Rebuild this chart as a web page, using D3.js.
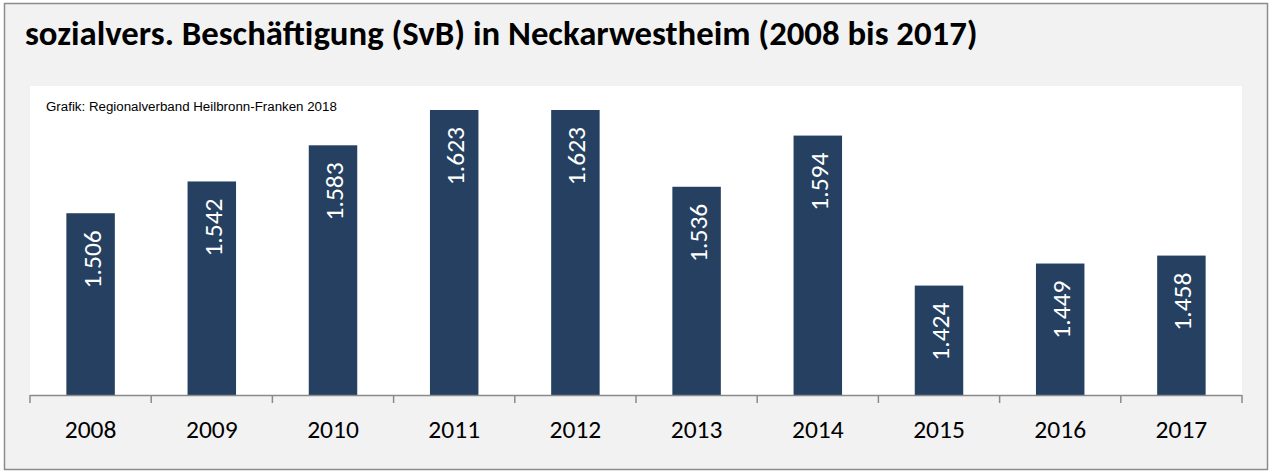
<!DOCTYPE html>
<html>
<head>
<meta charset="utf-8">
<script src="https://cdn.jsdelivr.net/npm/d3@7"></script>
<style>
  html, body { margin: 0; padding: 0; background: #ffffff; }
  svg { display: block; }
</style>
</head>
<body>
<svg id="chart" width="1271" height="472"></svg>
<script>
const years = ["2008","2009","2010","2011","2012","2013","2014","2015","2016","2017"];
const employees = [1506, 1542, 1583, 1623, 1623, 1536, 1594, 1424, 1449, 1458];
const titleText = "sozialvers. Beschäftigung (SvB) in Neckarwestheim (2008 bis 2017)";
const sourceText = "Grafik: Regionalverband Heilbronn-Franken 2018";

const svg = d3.select("#chart");

function fitWidth(sel, base, target) {
  const l = sel.node().getComputedTextLength();
  if (l > 0) sel.attr("font-size", base * target / l);
}

// outer frame
svg.append("rect")
  .attr("x", 4.5).attr("y", 3.5).attr("width", 1263).attr("height", 466)
  .attr("fill", "#f2f2f2").attr("stroke", "#8c8c8c").attr("stroke-width", 1.5);

// title
const title = svg.append("text")
  .attr("x", 25).attr("y", 45)
  .attr("font-family", "Calibri, Carlito, 'Open Sans', 'Noto Sans', sans-serif")
  .attr("font-weight", "bold")
  .attr("font-size", 28)
  .attr("fill", "#000")
  .text(titleText);
fitWidth(title, 28, 953);

// plot area
const px0 = 30, px1 = 1242, py0 = 86, py1 = 395;
svg.append("rect")
  .attr("x", px0).attr("y", py0).attr("width", px1 - px0).attr("height", py1 - py0)
  .attr("fill", "#ffffff");

const src = svg.append("text")
  .attr("x", 46).attr("y", 111)
  .attr("font-family", "Arial, 'Liberation Sans', sans-serif")
  .attr("font-size", 12.3)
  .attr("fill", "#000")
  .text(sourceText);
fitWidth(src, 12.3, 291);

const x = d3.scaleBand().domain(years).range([px0, px1]).paddingInner(0.6).paddingOuter(0.3);
const xTicks = d3.scaleBand().domain(years).range([px0, px1]);
const y = d3.scaleLinear().domain([1300, 1623]).range([py1, 110]);

svg.selectAll("rect.bar")
  .data(employees)
  .join("rect")
  .attr("class", "bar")
  .attr("x", (d, i) => x(years[i]))
  .attr("width", x.bandwidth())
  .attr("y", d => y(d))
  .attr("height", d => py1 - y(d))
  .attr("fill", "#254061");

const fmt = d => d3.format(",")(d).replace(/,/g, ".");

svg.selectAll("text.lbl")
  .data(employees)
  .join("text")
  .attr("class", "lbl")
  .attr("transform", (d, i) => `translate(${x(years[i]) + x.bandwidth() / 2 + 10},${y(d) + 17}) rotate(-90)`)
  .attr("text-anchor", "end")
  .attr("font-family", "Calibri, Carlito, 'Open Sans', 'Noto Sans', sans-serif")
  .attr("font-size", 25.5)
  .attr("fill", "#ffffff")
  .text(d => fmt(d));

// axis
const axis = d3.axisBottom(xTicks).tickSize(0).tickFormat(d => d);
const gAxis = svg.append("g").attr("transform", `translate(0,${py1})`).call(axis);
gAxis.select(".domain").remove();
gAxis.selectAll("text")
  .attr("dy", null)
  .attr("y", 43)
  .attr("font-family", "Calibri, Carlito, 'Open Sans', 'Noto Sans', sans-serif")
  .attr("font-size", 25.5)
  .attr("fill", "#000");

svg.append("line")
  .attr("x1", px0).attr("x2", px1).attr("y1", py1 + 0.5).attr("y2", py1 + 0.5)
  .attr("stroke", "#8a8a8a").attr("stroke-width", 1.5);

const tickPos = years.map(yr => xTicks(yr)).concat([px1]);
svg.selectAll("line.tick")
  .data(tickPos)
  .join("line")
  .attr("class", "tick")
  .attr("x1", d => d).attr("x2", d => d)
  .attr("y1", py1).attr("y2", py1 + 8)
  .attr("stroke", "#8a8a8a").attr("stroke-width", 1.5);
</script>
</body>
</html>
